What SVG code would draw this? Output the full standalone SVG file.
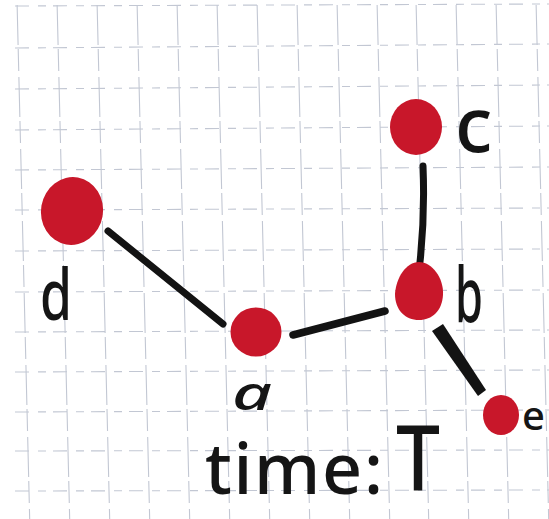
<svg xmlns="http://www.w3.org/2000/svg" width="549" height="519" viewBox="0 0 549 519">
  <defs>
    <style>
      .grid line { stroke: #c2c7d3; stroke-width: 1.1; }
      .gv { stroke-dasharray: 40 4 22 6; }
      .gh { stroke-dasharray: 14 9 8 7; }
      .node { fill: #c8172a; }
      .edge { stroke: #131313; stroke-linecap: round; fill: none; }
      .lbl { font-family: "Noto Sans", "DejaVu Sans", sans-serif; font-weight: 500; fill: #151515; }
    </style>
  </defs>
  <rect width="549" height="519" fill="#ffffff"/>
  <g id="grid" class="grid">
    <g transform="skewX(1.4)">
      <line class="gv" x1="17" y1="5" x2="17" y2="519"/>
      <line class="gv" x1="57" y1="5" x2="57" y2="519"/>
      <line class="gv" x1="97" y1="5" x2="97" y2="519"/>
      <line class="gv" x1="137" y1="5" x2="137" y2="519"/>
      <line class="gv" x1="177" y1="5" x2="177" y2="519"/>
      <line class="gv" x1="217" y1="5" x2="217" y2="519"/>
      <line class="gv" x1="257" y1="5" x2="257" y2="519"/>
      <line class="gv" x1="297" y1="5" x2="297" y2="519"/>
      <line class="gv" x1="337" y1="5" x2="337" y2="519"/>
      <line class="gv" x1="377" y1="5" x2="377" y2="519"/>
      <line class="gv" x1="416" y1="5" x2="416" y2="519"/>
      <line class="gv" x1="456" y1="5" x2="456" y2="519"/>
      <line class="gv" x1="496" y1="5" x2="496" y2="519"/>
      <line class="gv" x1="536" y1="5" x2="536" y2="519"/>
    </g>
    <line class="gh" x1="15" y1="6" x2="549" y2="4"/>
    <line class="gh" x1="15" y1="48" x2="549" y2="44"/>
    <line class="gh" x1="15" y1="89" x2="549" y2="85"/>
    <line class="gh" x1="15" y1="130" x2="549" y2="126"/>
    <line class="gh" x1="15" y1="170" x2="549" y2="167"/>
    <line class="gh" x1="15" y1="210" x2="549" y2="208"/>
    <line class="gh" x1="15" y1="251" x2="549" y2="249"/>
    <line class="gh" x1="15" y1="292" x2="549" y2="290"/>
    <line class="gh" x1="15" y1="332" x2="549" y2="330"/>
    <line class="gh" x1="15" y1="372" x2="549" y2="370"/>
    <line class="gh" x1="15" y1="412" x2="549" y2="410"/>
    <line class="gh" x1="15" y1="451" x2="549" y2="450"/>
    <line class="gh" x1="15" y1="491" x2="549" y2="490"/>
  </g>
  <g id="edges">
    <line class="edge" x1="108" y1="231" x2="223" y2="324" stroke-width="7"/>
    <line class="edge" x1="293" y1="335" x2="385" y2="311" stroke-width="7.5"/>
    <path class="edge" d="M423,166 Q425,215 420,262" stroke-width="7"/>
    <polygon points="432,331 443,324 486,390 478,396" fill="#131313"/>
  </g>
  <g id="node-c">
    <ellipse class="node" cx="416" cy="127" rx="26" ry="28"/>
    <text class="lbl" x="455" y="152" font-size="76">c</text>
  </g>
  <g id="node-d">
    <ellipse class="node" cx="72" cy="211" rx="31" ry="34" transform="rotate(10 72 211)"/>
    <text class="lbl" x="40" y="320" font-size="70" textLength="32" lengthAdjust="spacingAndGlyphs">d</text>
  </g>
  <g id="node-a">
    <ellipse class="node" cx="256" cy="332" rx="25.5" ry="24.5"/>
    <text class="lbl" x="232" y="410" font-size="48" font-style="italic" textLength="40" lengthAdjust="spacingAndGlyphs">a</text>
  </g>
  <g id="node-b">
    <path class="node" d="M419,262 C432,262 444,278 443,295 C442,311 432,320 419,320 C405,320 395,310 395,294 C396,278 406,262 419,262 Z"/>
    <text class="lbl" x="455" y="322" font-size="77" textLength="28" lengthAdjust="spacingAndGlyphs">b</text>
  </g>
  <g id="node-e">
    <ellipse class="node" cx="501" cy="415" rx="18" ry="20"/>
    <text class="lbl" x="522" y="430" font-size="40">e</text>
  </g>
  <g id="caption">
    <text class="lbl" x="205" y="494" font-size="70" font-weight="700" textLength="178" lengthAdjust="spacing">time:</text>
    <text class="lbl" x="396" y="491" font-size="90" font-weight="600" textLength="44" lengthAdjust="spacingAndGlyphs">T</text>
  </g>
</svg>
